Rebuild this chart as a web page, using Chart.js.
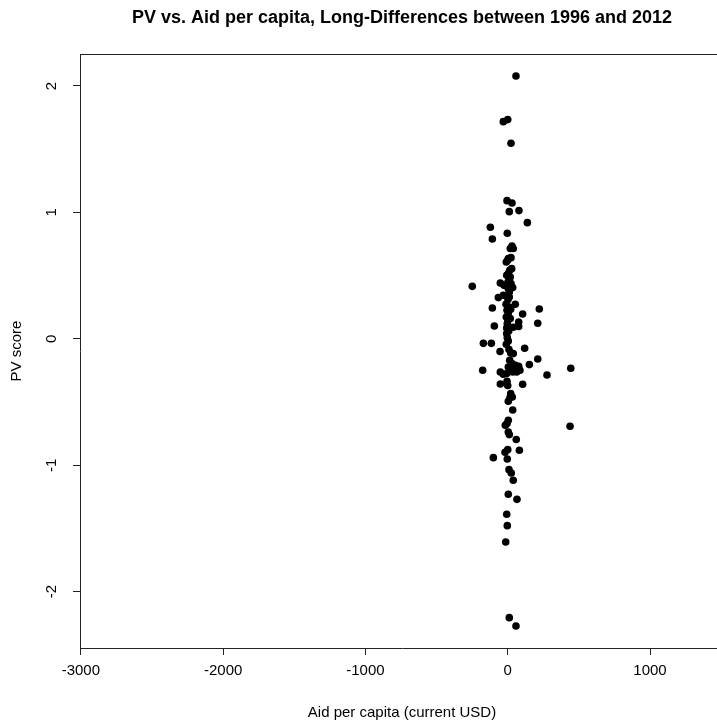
<!DOCTYPE html>
<html>
<head>
<meta charset="utf-8">
<script src="https://cdn.jsdelivr.net/npm/chart.js@4"></script>
<style>
  html, body { margin: 0; padding: 0; overflow: hidden; background: #fff; }
</style>
</head>
<body>
<canvas id="pvChart" width="804" height="726" style="width:804px;height:726px;display:block"></canvas>
<script>
// aid per capita (current USD), long differences
const aid = [58, -31, 0, 23, -5, 30, 11, 79, 138, -122, -3, -108, 30, 18, 39, 4, 23, -10, 0, 28,
  14, 4, -7, 18, -249, -52, -26, 2, 23, 35, 4, 11, -66, -31, 2, 11, -108, 53, -12, 9,
  -5, 4, 21, 222, 105, -10, 2, 18, -3, 77, -94, 211, 77, 39, -7, 7, -7, -3, 4, -10,
  -171, -115, 119, -54, 9, 21, 39, 211, 443, 276, -176, 152, 14, 30, 4, 21, 53, 77, 86, 63,
  35, -52, -31, -7, -52, -5, 0, 105, 21, 16, 32, 4, 35, 4, -17, -5, 438, 4, 11, 60,
  0, -19, 82, -101, -3, 9, 25, 39, 4, 65, -7, -3, -14, 11, 58];
// PV score, long differences
const pv = [2.079, 1.718, 1.734, 1.547, 1.093, 1.074, 1.006, 1.014, 0.919, 0.882, 0.835, 0.790, 0.734, 0.714, 0.714, 0.634, 0.642, 0.608, 0.621, 0.555,
  0.542, 0.516, 0.502, 0.489, 0.415, 0.441, 0.423, 0.449, 0.437, 0.405, 0.397, 0.370, 0.326, 0.344, 0.310, 0.331, 0.244, 0.273, 0.273, 0.252,
  0.225, 0.204, 0.233, 0.236, 0.196, 0.172, 0.146, 0.160, 0.120, 0.133, 0.101, 0.123, 0.097, 0.091, 0.085, 0.062, 0.041, 0.009, -0.017, -0.044,
  -0.036, -0.036, -0.075, -0.101, -0.085, -0.112, -0.117, -0.160, -0.233, -0.286, -0.249, -0.204, -0.170, -0.196, -0.223, -0.236, -0.210, -0.218, -0.249, -0.263,
  -0.263, -0.263, -0.281, -0.275, -0.358, -0.336, -0.370, -0.360, -0.434, -0.465, -0.460, -0.494, -0.563, -0.645, -0.684, -0.671, -0.692, -0.737, -0.758, -0.797,
  -0.877, -0.898, -0.882, -0.940, -0.951, -1.035, -1.062, -1.119, -1.230, -1.270, -1.388, -1.478, -1.608, -2.206, -2.272];

const xTicks = [-3000, -2000, -1000, 0, 1000];
const yTicks = [-2, -1, 0, 1, 2];

const chartTitle = 'PV vs. Aid per capita, Long-Differences between 1996 and 2012';
const font = "'Liberation Sans', Arial, sans-serif";

// R-style box top edge + main title centred over the plot region
const rDecor = {
  id: 'rDecor',
  afterDraw(chart) {
    const a = chart.chartArea, c = chart.ctx;
    c.save();
    c.strokeStyle = '#222';
    c.lineWidth = 1;
    c.beginPath();
    c.moveTo(a.left, a.top + 0.5);
    c.lineTo(a.right, a.top + 0.5);
    c.stroke();
    c.fillStyle = '#000';
    c.font = 'bold 18px ' + font;
    c.textAlign = 'center';
    c.textBaseline = 'middle';
    c.fillText(chartTitle, (a.left + a.right) / 2, 18);
    c.restore();
  }
};

new Chart(document.getElementById('pvChart'), {
  type: 'scatter',
  data: {
    datasets: [{
      data: aid.map((v, i) => ({ x: v, y: pv[i] })),
      backgroundColor: '#000',
      borderWidth: 0,
      pointRadius: 3.8,
      pointHoverRadius: 3.8
    }]
  },
  options: {
    responsive: false,
    animation: false,
    layout: { padding: { left: 0, right: 80, top: 54, bottom: 0 } },
    plugins: {
      legend: { display: false },
      tooltip: { enabled: false },
      title: { display: false }
    },
    scales: {
      x: {
        type: 'linear',
        min: -3006,
        max: 1520,
        afterBuildTicks: s => { s.ticks = xTicks.map(v => ({ value: v })); },
        afterFit: s => { s.height = 78; },
        grid: { display: true, drawOnChartArea: false, drawTicks: true, tickLength: 7, color: '#222' },
        border: { display: true, color: '#222', width: 1 },
        ticks: {
          color: '#000',
          font: { family: font, size: 15 },
          padding: 7,
          maxRotation: 0,
          callback: v => String(v)
        },
        title: {
          display: true,
          text: 'Aid per capita (current USD)',
          color: '#000',
          font: { family: font, size: 15 },
          padding: { top: 4, bottom: 4 }
        }
      },
      y: {
        type: 'linear',
        min: -2.446,
        max: 2.253,
        afterBuildTicks: s => { s.ticks = yTicks.map(v => ({ value: v })); },
        afterFit: s => { s.width = 80; },
        grid: { display: true, drawOnChartArea: false, drawTicks: true, tickLength: 7, color: '#222' },
        border: { display: true, color: '#222', width: 1 },
        ticks: {
          color: '#000',
          font: { family: font, size: 15 },
          minRotation: 90,
          maxRotation: 90,
          crossAlign: 'center',
          padding: 14,
          callback: v => String(v)
        },
        title: {
          display: true,
          text: 'PV score',
          color: '#000',
          font: { family: font, size: 15 },
          padding: { top: 8, bottom: 8 }
        }
      }
    }
  },
  plugins: [rDecor]
});
</script>
</body>
</html>
